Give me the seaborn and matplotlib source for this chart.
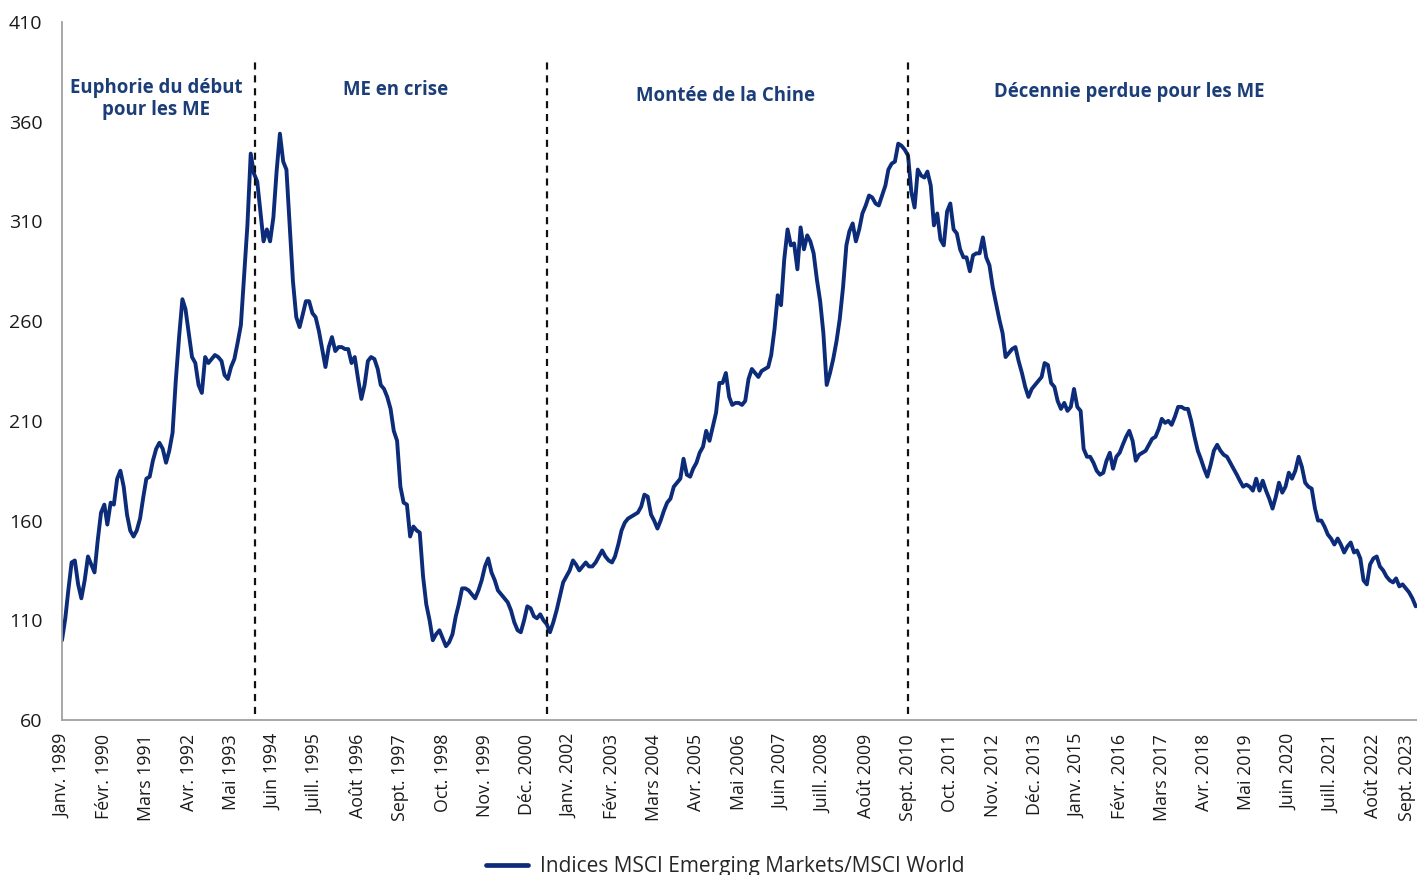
import matplotlib
matplotlib.use("Agg")
import matplotlib.pyplot as plt
import matplotlib.transforms as mtransforms
import numpy as np
import pandas as pd
import seaborn as sns

# Monthly ratio MSCI Emerging Markets / MSCI World, January 1989 to September 2023
ratio_1989 = [100, 111, 125, 139, 140, 128, 121, 130, 142, 138, 134, 150]
ratio_1990 = [164, 168, 158, 169, 168, 181, 185, 177, 163, 155, 152, 155]
ratio_1991 = [161, 172, 181, 182, 190, 196, 199, 196, 189, 195, 204, 230]
ratio_1992 = [252, 271, 266, 254, 242, 239, 228, 224, 242, 239, 241, 243]
ratio_1993 = [242, 240, 233, 231, 237, 241, 249, 258, 283, 308, 344, 334]
ratio_1994 = [330, 314, 300, 306, 300, 312, 335, 354, 340, 336, 308, 280]
ratio_1995 = [262, 257, 263, 270, 270, 264, 262, 255, 246, 237, 247, 252]
ratio_1996 = [245, 247, 247, 246, 246, 239, 242, 231, 221, 228, 240, 242]
ratio_1997 = [241, 236, 228, 226, 222, 216, 205, 200, 177, 169, 168, 152]
ratio_1998 = [157, 155, 154, 132, 118, 110, 100, 103, 105, 101, 97, 99]
ratio_1999 = [103, 112, 118, 126, 126, 125, 123, 121, 125, 130, 137, 141]
ratio_2000 = [134, 130, 125, 123, 121, 119, 115, 109, 105, 104, 110, 117]
ratio_2001 = [116, 112, 111, 113, 110, 108, 104, 109, 115, 122, 129, 132]
ratio_2002 = [135, 140, 138, 135, 137, 139, 137, 137, 139, 142, 145, 142]
ratio_2003 = [140, 139, 142, 148, 155, 159, 161, 162, 163, 164, 167, 173]
ratio_2004 = [172, 163, 160, 156, 160, 165, 169, 171, 177, 179, 181, 191]
ratio_2005 = [183, 182, 186, 189, 194, 197, 205, 200, 207, 214, 229, 229]
ratio_2006 = [234, 222, 218, 219, 219, 218, 220, 231, 236, 234, 232, 235]
ratio_2007 = [236, 237, 243, 256, 273, 268, 291, 306, 298, 299, 286, 307]
ratio_2008 = [296, 303, 300, 294, 281, 270, 254, 228, 234, 241, 250, 261]
ratio_2009 = [277, 298, 305, 309, 300, 306, 314, 318, 323, 322, 319, 318]
ratio_2010 = [323, 328, 336, 339, 340, 349, 348, 346, 343, 325, 317, 336]
ratio_2011 = [333, 332, 335, 328, 308, 314, 301, 298, 315, 319, 306, 304]
ratio_2012 = [296, 292, 292, 285, 293, 294, 294, 302, 292, 288, 277, 269]
ratio_2013 = [261, 254, 242, 244, 246, 247, 240, 234, 227, 222, 226, 228]
ratio_2014 = [230, 232, 239, 238, 229, 227, 220, 216, 219, 215, 217, 226]
ratio_2015 = [217, 215, 196, 192, 192, 189, 185, 183, 184, 190, 194, 186]
ratio_2016 = [192, 194, 198, 202, 205, 200, 190, 193, 194, 195, 198, 201]
ratio_2017 = [202, 206, 211, 209, 210, 208, 212, 217, 217, 216, 216, 210]
ratio_2018 = [202, 195, 191, 186, 182, 188, 195, 198, 195, 193, 192, 189]
ratio_2019 = [186, 183, 180, 177, 178, 177, 175, 181, 175, 180, 175, 171]
ratio_2020 = [166, 172, 179, 174, 177, 184, 181, 185, 192, 187, 179, 177]
ratio_2021 = [176, 166, 160, 160, 157, 153, 151, 148, 151, 148, 144, 147]
ratio_2022 = [149, 144, 145, 141, 130, 128, 138, 141, 142, 137, 135, 132]
ratio_2023 = [130, 129, 131, 127, 128, 126, 124, 121, 117]

yearly = [ratio_1989, ratio_1990, ratio_1991, ratio_1992, ratio_1993, ratio_1994,
          ratio_1995, ratio_1996, ratio_1997, ratio_1998, ratio_1999, ratio_2000,
          ratio_2001, ratio_2002, ratio_2003, ratio_2004, ratio_2005, ratio_2006,
          ratio_2007, ratio_2008, ratio_2009, ratio_2010, ratio_2011, ratio_2012,
          ratio_2013, ratio_2014, ratio_2015, ratio_2016, ratio_2017, ratio_2018,
          ratio_2019, ratio_2020, ratio_2021, ratio_2022, ratio_2023]
ratio = [v for year in yearly for v in year]

mois = ["Janv.", "Févr.", "Mars", "Avr.", "Mai", "Juin",
        "Juill.", "Août", "Sept.", "Oct.", "Nov.", "Déc."]

serie_label = "Indices MSCI Emerging Markets/MSCI World"

# Phase boundaries and phase titles
phase_breaks = ["1993-12-15", "2001-06-01", "2010-09-01"]
phase_titles = ["Euphorie du début\npour les ME", "ME en crise",
                "Montée de la Chine", "Décennie perdue pour les ME"]
phase_title_dates = ["1991-06-01", "1997-07-15", "2006-01-01", "2016-05-01"]
phase_title_levels = [371.5, 376, 373, 375]

y_ticks = [60, 110, 160, 210, 260, 310, 360, 410]

NAVY = "#0c2c7a"
TEXT_NAVY = "#1b3d78"

dates = pd.date_range("1989-01-01", periods=len(ratio), freq="MS")
df = pd.DataFrame({"date": dates, "ratio": ratio, "serie": serie_label})

sns.set_theme(style="white")
plt.rcParams["font.family"] = ["Open Sans", "DejaVu Sans"]

fig = plt.figure(figsize=(14.17, 8.75), dpi=100)
ax = fig.add_axes([62 / 1417, 1 - 720 / 875, (1417 - 62) / 1417, (720 - 22) / 875])

sns.lineplot(data=df, x="date", y="ratio", hue="serie", palette=[NAVY],
             linewidth=2.8, ax=ax, legend=False)

ax.set_ylim(60, 410)
ax.set_yticks(y_ticks)
ax.set_yticklabels([str(t) for t in y_ticks], fontsize=14, color="#1a1a1a")
ax.set_xlim(dates[0], dates[-1] + pd.Timedelta(days=12))

tick_dates = dates[::13]
ax.set_xticks(tick_dates)
ax.set_xticklabels([f"{mois[d.month - 1]} {d.year}" for d in tick_dates],
                   rotation=90, fontsize=12.8, color="#1a1a1a")
ax.tick_params(axis="x", length=0, pad=10)
ax.tick_params(axis="y", length=0, pad=14)
ax.set_xlabel("")
ax.set_ylabel("")

# keep the last month label inside the figure edge
last_label = ax.get_xticklabels()[-1]
last_label.set_transform(last_label.get_transform() +
                         mtransforms.ScaledTranslation(-9 / 100, 0, fig.dpi_scale_trans))

for side in ["top", "right"]:
    ax.spines[side].set_visible(False)
for side in ["left", "bottom"]:
    ax.spines[side].set_color("#a0a0a0")
    ax.spines[side].set_linewidth(1.3)

for b in phase_breaks:
    ax.axvline(pd.Timestamp(b), ymin=0.008, ymax=0.943, color="#111111",
               linestyle=(0, (3.2, 2.6)), linewidth=1.6)

for title, d, lvl in zip(phase_titles, phase_title_dates, phase_title_levels):
    ax.text(pd.Timestamp(d), lvl, title, ha="center", va="center",
            fontsize=13.4, fontweight="bold", color=TEXT_NAVY, linespacing=1.1)

handle = plt.Line2D([], [], color=NAVY, linewidth=3.4)
fig.legend([handle], [serie_label], loc="lower center",
           bbox_to_anchor=(0.512, -0.024), frameon=False, fontsize=15,
           handlelength=2.0, handletextpad=0.6)

fig.savefig("out.png", dpi=100)
